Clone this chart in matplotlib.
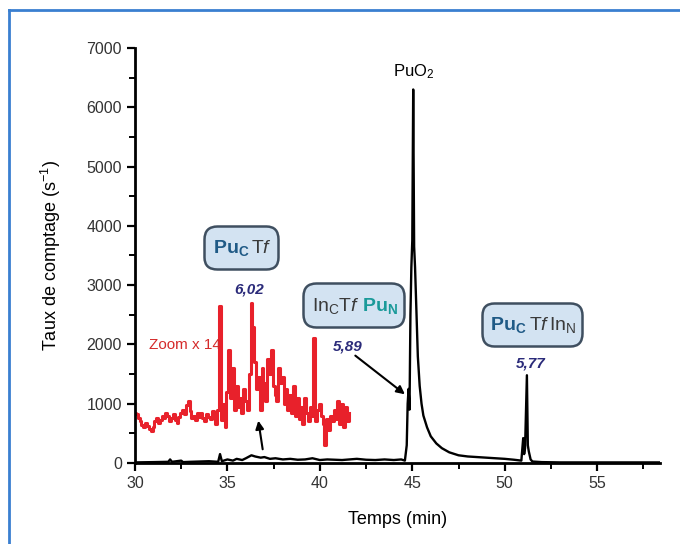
import numpy as np
import matplotlib
matplotlib.use("Agg")
import matplotlib.pyplot as plt
from matplotlib.lines import Line2D
from matplotlib.offsetbox import TextArea, HPacker, AnnotationBbox, DrawingArea
from matplotlib.ticker import MultipleLocator

plt.rcParams['font.family'] = ['Liberation Sans', 'DejaVu Sans']
plt.rcParams['mathtext.fontset'] = 'custom'
plt.rcParams['mathtext.rm'] = 'Liberation Sans'
plt.rcParams['mathtext.it'] = 'Liberation Sans:italic'
plt.rcParams['mathtext.bf'] = 'Liberation Sans:bold'

# ---- Data ----
# Zoomed (x14) baseline, sampled every 0.1 min from 30.0 min
red_start = 30.0
red_step = 0.1
red_values = [850, 820, 760, 700, 640, 600, 680, 620, 570, 540,
              600, 700, 760, 680, 720, 800, 760, 850, 790, 700,
              760, 820, 720, 680, 780, 850, 900, 820, 980, 1050,
              870, 760, 800, 720, 850, 780, 840, 760, 700, 820,
              780, 740, 880, 800, 650, 900, 2650, 720, 1000, 600,
              1200, 1900, 1100, 1600, 900, 1300, 950, 1100, 850, 1250,
              1050, 900, 1500, 2700, 2300, 1700, 1250, 1450, 900, 1600,
              1350, 1050, 1750, 1500, 1900, 1300, 1150, 1050, 1600, 1350,
              1450, 1000, 1250, 900, 1150, 850, 1300, 800, 1100, 750,
              950, 650, 1100, 850, 700, 950, 800, 2100, 700, 900,
              1000, 800, 650, 300, 750, 550, 800, 700, 900, 750,
              1050, 650, 1000, 600, 950, 700, 850]

black_t = [30.0, 31.0, 31.8, 31.9, 32.0, 32.5, 32.6, 33.0, 33.5, 34.0,
           34.5, 34.6, 34.7, 35.0, 35.3, 35.5, 35.8, 36.0, 36.3, 36.5,
           36.8, 37.0, 37.3, 37.6, 38.0, 38.4, 38.8, 39.2, 39.6, 40.0,
           40.4, 40.8, 41.2, 41.6, 42.0, 42.5, 43.0, 43.5, 44.0, 44.4,
           44.6, 44.7, 44.75, 44.8, 44.85, 44.9, 44.95, 45.0, 45.05, 45.1,
           45.15, 45.2, 45.3, 45.4, 45.5, 45.6, 45.8, 46.0, 46.3, 46.6,
           47.0, 47.5, 48.0, 48.5, 49.0, 49.5, 50.0, 50.5, 50.9,
           51.0, 51.05, 51.1, 51.2, 51.25, 51.3, 51.4, 51.5, 52.0, 53.0,
           55.0, 58.4]
black_v = [10, 15, 20, 60, 20, 40, 15, 20, 25, 30,
           20, 150, 30, 60, 40, 70, 50, 80, 130, 110,
           90, 100, 70, 80, 60, 70, 55, 60, 80, 50,
           60, 55, 50, 60, 70, 55, 50, 60, 50, 60,
           40, 300, 1000, 1250, 900, 2500, 3300, 3750, 6300, 3650,
           3300, 2800, 1800, 1300, 1000, 800, 600, 450, 330, 250,
           180, 130, 110, 100, 90, 80, 70, 55, 40,
           420, 150, 250, 1480, 300, 200, 60, 25, 15, 10,
           10, 10]

x_ticks = [30, 35, 40, 45, 50, 55]
y_ticks = [0, 1000, 2000, 3000, 4000, 5000, 6000, 7000]

red_t = red_start + red_step * np.arange(len(red_values))

# ---- Figure ----
fig = plt.figure(figsize=(6.8, 5.44), dpi=100)
ax = fig.add_axes([0.1985, 0.1489, 0.7721, 0.7629])

ax.plot(black_t, black_v, color='black', lw=1.7, zorder=3)
ax.plot(red_t, red_values, color='#e8212b', lw=2.2, drawstyle='steps-mid', zorder=2)

ax.set_xlim(30, 58.4)
ax.set_ylim(0, 7000)
ax.set_xticks(x_ticks)
ax.set_yticks(y_ticks)
ax.xaxis.set_minor_locator(MultipleLocator(2.5))
ax.yaxis.set_minor_locator(MultipleLocator(500))
for s in ['top', 'right']:
    ax.spines[s].set_visible(False)
for s in ['left', 'bottom']:
    ax.spines[s].set_linewidth(2)
ax.tick_params(which='major', length=6, width=1.6, labelsize=11.5, colors='black', labelcolor='#333333')
ax.tick_params(which='minor', length=4, width=1.4)

ax.set_xlabel('Temps (min)', fontsize=13, labelpad=14)
ax.set_ylabel('Taux de comptage (s$^{-1}$)', fontsize=13, labelpad=17)

# PuO2 label
ax.text(45.05, 6600, 'PuO$_2$', ha='center', va='center', fontsize=12)

# Red zoom label
ax.text(32.7, 1990, 'Zoom x 14', color='#d42a2a', fontsize=11, ha='center', va='center')

# Boxes with compound labels
pu_col = '#1f5a86'
teal = '#1a9a9a'
grey = '#3a3a3a'
fs = 14

def label_box(parts, xy):
    areas = [DrawingArea(0, 22, 0, 7)]
    areas += [TextArea(t, textprops=dict(color=c, fontsize=fs)) for t, c in parts]
    pack = HPacker(children=areas, align='baseline', pad=0, sep=1.5)
    ab = AnnotationBbox(pack, xy, xycoords='data', frameon=True,
                        pad=0.25,
                        bboxprops=dict(boxstyle='round,pad=0.45,rounding_size=0.9',
                                       fc='#d3e3f2', ec='#3f4f60', lw=1.8))
    ax.add_artist(ab)

label_box([(r'$\mathbf{Pu}_{\mathbf{C}}$', pu_col), (r'$\mathrm{T}\mathit{f}$', grey)], (35.75, 3630))
label_box([(r'$\mathrm{In}_{\mathrm{C}}\mathrm{T}\mathit{f}$', grey), (r'$\mathbf{Pu}_{\mathbf{N}}$', teal)], (41.82, 2665))
label_box([(r'$\mathbf{Pu}_{\mathbf{C}}$', pu_col), (r'$\mathrm{T}\mathit{f}\,\mathrm{In}_{\mathrm{N}}$', grey)], (51.48, 2340))

num_kw = dict(color='#2b2b7a', fontsize=11, fontweight='bold', fontstyle='italic', ha='center', va='center')
ax.text(36.2, 2934, '6,02', **num_kw)
ax.text(41.5, 1970, '5,89', **num_kw)
ax.text(51.4, 1670, '5,77', **num_kw)

arrow_kw = dict(arrowstyle='-|>', color='black', lw=1.5, mutation_scale=12)
ax.annotate('', xy=(44.72, 1130), xytext=(41.8, 1840), arrowprops=arrow_kw)
ax.annotate('', xy=(36.65, 760), xytext=(36.93, 185), arrowprops=arrow_kw)

# Blue frame
fx = 9 / 680
fy = 1 - 10 / 544
fig.add_artist(Line2D([fx, fx], [0, fy], transform=fig.transFigure, color='#3a7fd0', lw=2))
fig.add_artist(Line2D([fx, 1], [fy, fy], transform=fig.transFigure, color='#3a7fd0', lw=2))

fig.savefig('out.png', dpi=100)
